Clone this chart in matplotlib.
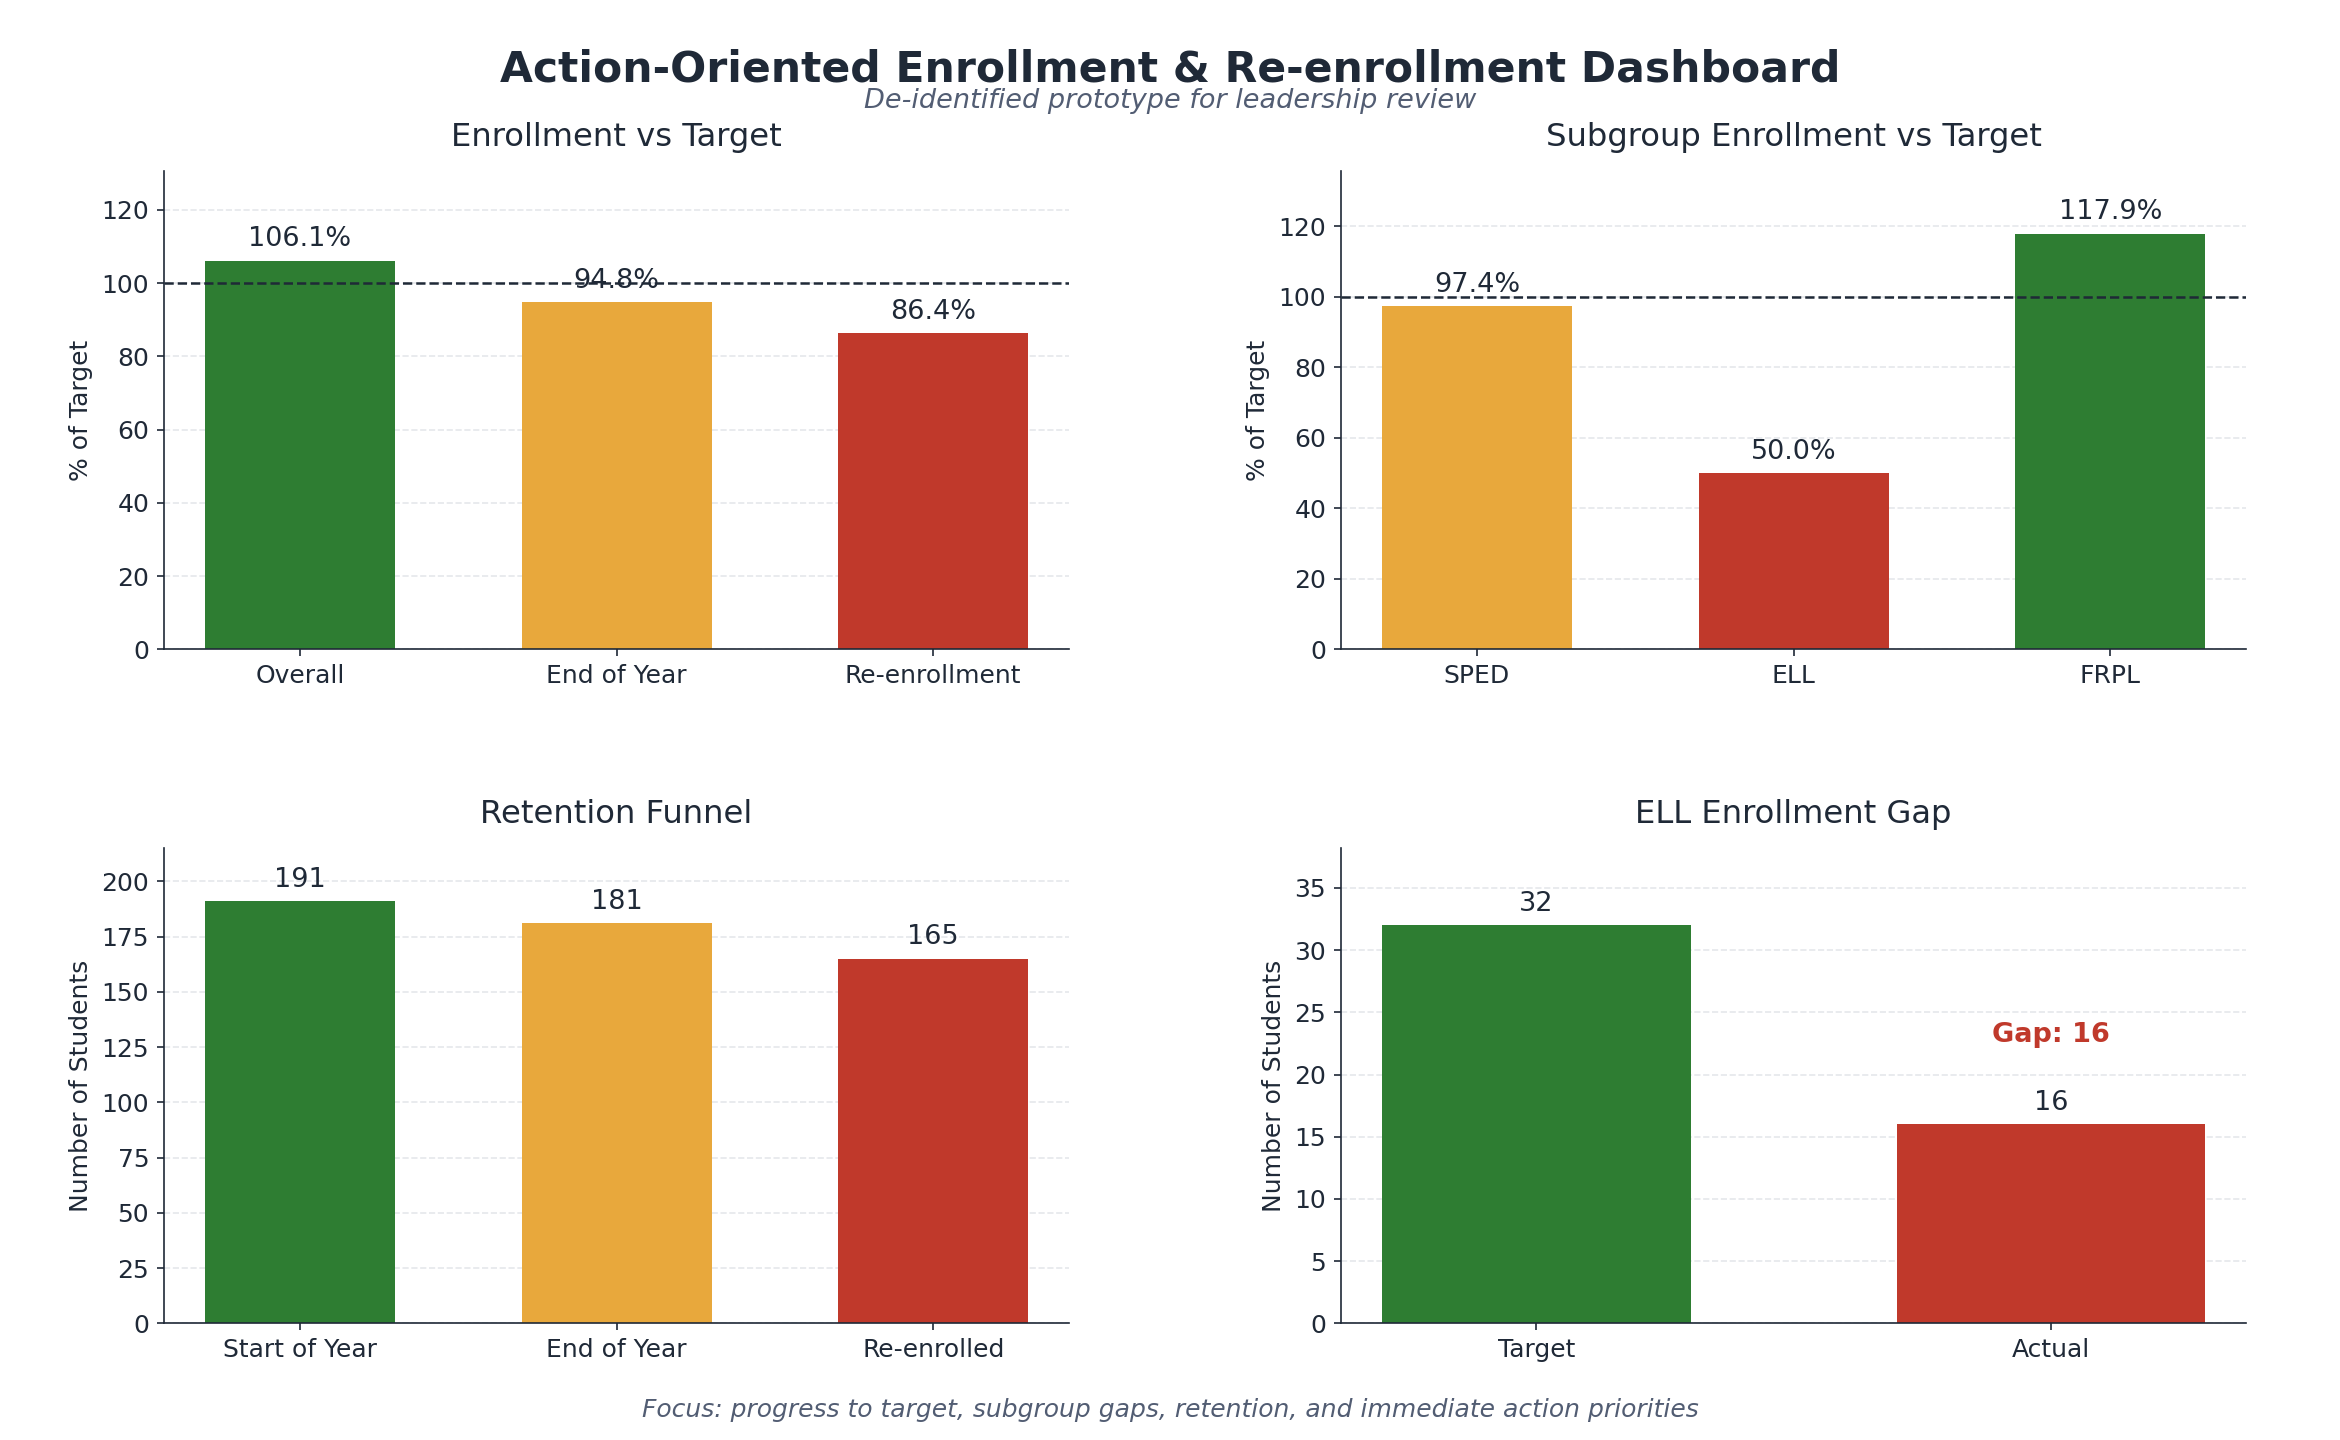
import matplotlib
matplotlib.use('Agg')
import matplotlib.pyplot as plt

DARK = '#1f2937'
MUTED = '#525d73'
GREEN = '#2e7d32'
AMBER = '#e8a83c'
RED = '#c0392b'

target_labels = ['Overall', 'End of Year', 'Re-enrollment']
target_pct = [106.1, 94.8, 86.4]
target_colors = [GREEN, AMBER, RED]

subgroup_labels = ['SPED', 'ELL', 'FRPL']
subgroup_pct = [97.4, 50.0, 117.9]
subgroup_colors = [AMBER, RED, GREEN]

funnel_labels = ['Start of Year', 'End of Year', 'Re-enrolled']
funnel_counts = [191, 181, 165]
funnel_colors = [GREEN, AMBER, RED]

ell_labels = ['Target', 'Actual']
ell_counts = [32, 16]
ell_colors = [GREEN, RED]

plt.rcParams['font.family'] = 'DejaVu Sans'
plt.rcParams['text.color'] = DARK
plt.rcParams['axes.labelcolor'] = DARK
plt.rcParams['xtick.color'] = DARK
plt.rcParams['ytick.color'] = DARK

fig = plt.figure(figsize=(15.6, 9.6), dpi=150)
ax1 = fig.add_axes([0.070, 0.549, 0.387, 0.332])
ax2 = fig.add_axes([0.573, 0.549, 0.387, 0.332])
ax3 = fig.add_axes([0.070, 0.081, 0.387, 0.330])
ax4 = fig.add_axes([0.573, 0.081, 0.387, 0.330])


def style(ax, title, ylabel, ymax):
    ax.set_title(title, fontsize=15.5, color=DARK, pad=12)
    ax.set_ylabel(ylabel, fontsize=12)
    ax.set_ylim(0, ymax)
    ax.spines['top'].set_visible(False)
    ax.spines['right'].set_visible(False)
    for s in ['left', 'bottom']:
        ax.spines[s].set_color(DARK)
    ax.tick_params(labelsize=12)
    ax.yaxis.grid(True, linestyle='--', color='#e5e7eb', linewidth=0.8)
    ax.set_axisbelow(True)


def bars(ax, labels, values, colors, fmt):
    b = ax.bar(labels, values, color=colors, width=0.6)
    for rect, v in zip(b, values):
        ax.annotate(fmt.format(v), (rect.get_x() + rect.get_width() / 2, v),
                    xytext=(0, 4), textcoords='offset points',
                    ha='center', va='bottom', fontsize=13, color=DARK)


bars(ax1, target_labels, target_pct, target_colors, '{:.1f}%')
ax1.axhline(100, color=DARK, linestyle='--', linewidth=1.2)
style(ax1, 'Enrollment vs Target', '% of Target', 130.5)

bars(ax2, subgroup_labels, subgroup_pct, subgroup_colors, '{:.1f}%')
ax2.axhline(100, color=DARK, linestyle='--', linewidth=1.2)
style(ax2, 'Subgroup Enrollment vs Target', '% of Target', 135.6)

bars(ax3, funnel_labels, funnel_counts, funnel_colors, '{}')
style(ax3, 'Retention Funnel', 'Number of Students', 215)

bars(ax4, ell_labels, ell_counts, ell_colors, '{}')
style(ax4, 'ELL Enrollment Gap', 'Number of Students', 38.2)
gap = ell_counts[0] - ell_counts[1]
ax4.text(1, ell_counts[1] + gap * 0.45, f'Gap: {gap}', ha='center', va='center',
         fontsize=13, fontweight='bold', color=RED)

fig.text(0.5, 0.952, 'Action-Oriented Enrollment & Re-enrollment Dashboard',
         ha='center', va='center', fontsize=20.4, fontweight='bold', color=DARK)
fig.text(0.5, 0.930, 'De-identified prototype for leadership review',
         ha='center', va='center', fontsize=13, style='italic', color=MUTED)
fig.text(0.5, 0.021, 'Focus: progress to target, subgroup gaps, retention, and immediate action priorities',
         ha='center', va='center', fontsize=12, style='italic', color=MUTED)

fig.savefig('out.png', dpi=150)
